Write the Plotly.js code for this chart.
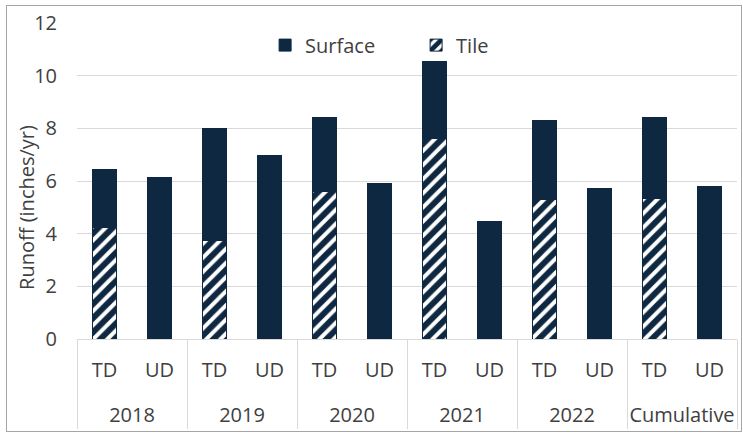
<!DOCTYPE html>
<html>
<head>
<meta charset="utf-8">
<script src="https://cdn.plot.ly/plotly-3.0.1.min.js"></script>
<style>
html,body{margin:0;padding:0;background:#fff;}
#chart{width:743px;height:433px;}
#frame{position:absolute;left:6px;top:5px;width:734px;height:425px;border:1px solid #a6a6a6;pointer-events:none;}
</style>
</head>
<body>
<div id="chart"></div>
<div id="frame"></div>
<script>
const years = ['2018','2018','2019','2019','2020','2020','2021','2021','2022','2022','Cumulative','Cumulative'];
const sites = ['TD','UD','TD','UD','TD','UD','TD','UD','TD','UD','TD','UD'];
const tile = [4.25, null, 3.75, null, 5.6, null, 7.6, null, 5.3, null, 5.35, null];
const surface = [2.17, 6.15, 4.25, 6.95, 2.82, 5.9, 2.95, 4.45, 3.0, 5.7, 3.05, 5.8];

const navy = '#0e2841';
const txt = '#404040';
const fontFam = 'Open Sans, Liberation Sans, sans-serif';

// first-level labels get an empty second line so the year row sits lower, as in the reference
const siteLabels = sites.map(s => s + '<br><span style="font-size:44px">\u00a0</span>');

const traces = [
  {
    type: 'bar', name: 'Tile', x: [years, siteLabels], y: tile,
    marker: {color: '#ffffff', line: {color: navy, width: 1},
      pattern: {shape: '/', fgcolor: navy, bgcolor: '#ffffff', fgopacity: 1, size: 10, solidity: 0.6, fillmode: 'overlay'}},
    hoverinfo: 'skip'
  },
  {
    type: 'bar', name: 'Surface', x: [years, siteLabels], y: surface,
    marker: {color: navy, line: {color: navy, width: 1}},
    hoverinfo: 'skip'
  }
];

const layout = {
  width: 743, height: 433,
  margin: {l: 77, r: 6, t: 23, b: 94},
  paper_bgcolor: '#ffffff', plot_bgcolor: '#ffffff',
  font: {family: fontFam, size: 20, color: txt},
  barmode: 'stack', bargap: 0.58,
  showlegend: true,
  legend: {orientation: 'h', x: 0.285, xanchor: 'left', y: 0.93, yanchor: 'middle',
    entrywidth: 106, entrywidthmode: 'pixels',
    traceorder: 'reversed', bgcolor: 'rgba(0,0,0,0)', font: {size: 20, color: txt}},
  xaxis: {
    type: 'multicategory', showgrid: false, ticks: '', showline: false,
    showdividers: true, dividercolor: '#d9d9d9', dividerwidth: 1,
    tickfont: {size: 20, color: txt}, ticklabelstandoff: 17, automargin: false
  },
  yaxis: {
    range: [0, 12], dtick: 2, tick0: 0, showgrid: true, gridcolor: '#d9d9d9', gridwidth: 1,
    zeroline: true, zerolinecolor: '#d9d9d9', zerolinewidth: 1, ticks: '', showline: false,
    tickfont: {size: 20, color: txt}, ticklabelstandoff: 19, automargin: false
  },
  annotations: [{
    text: 'Runoff (inches/yr)', textangle: -90, showarrow: false,
    xref: 'paper', yref: 'paper', x: -0.0758, y: 0.418, xanchor: 'center', yanchor: 'middle',
    font: {size: 20, color: txt}
  }]
};

Plotly.newPlot('chart', traces, layout, {displayModeBar: false, staticPlot: true});
</script>
</body>
</html>
